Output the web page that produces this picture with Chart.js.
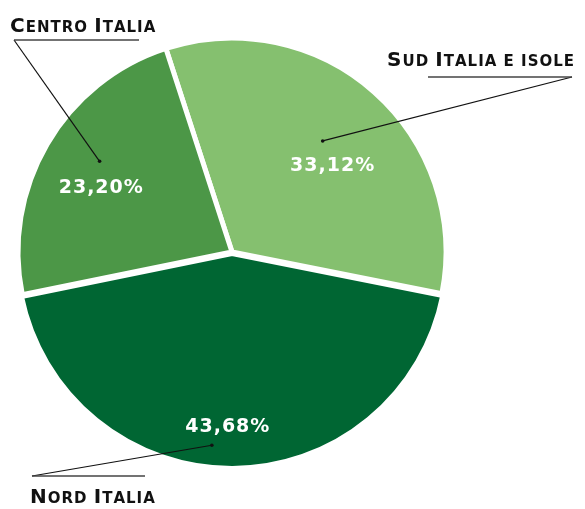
<!DOCTYPE html>
<html>
<head>
<meta charset="utf-8">
<script src="https://cdn.jsdelivr.net/npm/chart.js@4"></script>
<style>
  html, body { margin: 0; padding: 0; background: #fff; }
  #wrap { width: 585px; height: 509px; }
</style>
</head>
<body>
<div id="wrap"><canvas id="torta"></canvas></div>
<script>
// dati
const areas = ['Sud Italia e isole', 'Nord Italia', 'Centro Italia'];
const percentages = [33.12, 43.68, 23.20];
const sliceColors = ['#85c06f', '#006633', '#4c9747'];

// posizione etichette esterne (testo + sottolineatura)
const callouts = [
  { align: 'right', tx: 575, ty: 66, lx1: 428, lx2: 572, ly: 77, endX: 572, dotT: 0.48, dotR: 0.67, pctT: 0.565, pctR: 0.62 },
  { align: 'left',  tx: 30,  ty: 503, lx1: 32, lx2: 145, ly: 476, endX: 32, dotT: 0.54, dotR: 0.88, pctT: 0.51, pctR: 0.79 },
  { align: 'left',  tx: 10,  ty: 32, lx1: 14, lx2: 139, ly: 40, endX: 14, dotT: 0.55, dotR: 0.75, pctT: 0.45, pctR: 0.68 }
];

const FONT = "'DejaVu Sans', sans-serif";

// disegna il testo in maiuscoletto (small caps) a mano
function smallCaps(ctx, text, x, y, align) {
  const big = 20, small = 15;
  const parts = [];
  let w = 0;
  for (const ch of text) {
    const isUp = ch !== ch.toLowerCase();
    const size = isUp ? big : small;
    ctx.font = 'bold ' + size + 'px ' + FONT;
    const c = ch.toUpperCase();
    const cw = ctx.measureText(c).width + 1;
    parts.push({ c, size, cw });
    w += cw;
  }
  let cx = align === 'right' ? x - w : x;
  ctx.textAlign = 'left';
  ctx.textBaseline = 'alphabetic';
  for (const p of parts) {
    ctx.font = 'bold ' + p.size + 'px ' + FONT;
    ctx.fillText(p.c, cx, y);
    cx += p.cw;
  }
}

const calloutPlugin = {
  id: 'callouts',
  afterDatasetsDraw(chart) {
    const ctx = chart.ctx;
    const arcs = chart.getDatasetMeta(0).data;
    ctx.save();
    arcs.forEach((arc, i) => {
      const c = callouts[i];
      const { x, y, startAngle, endAngle, outerRadius } = arc.getProps(['x', 'y', 'startAngle', 'endAngle', 'outerRadius'], true);
      const off = chart.data.datasets[0].offset[i] || 0;
      const mid = (startAngle + endAngle) / 2;
      const cx = x + Math.cos(mid) * off;
      const cy = y + Math.sin(mid) * off;
      const at = (t, r) => {
        const a = startAngle + (endAngle - startAngle) * t;
        return [cx + Math.cos(a) * outerRadius * r, cy + Math.sin(a) * outerRadius * r];
      };

      // percentuale bianca
      const [px, py] = at(c.pctT, c.pctR);
      ctx.fillStyle = '#ffffff';
      ctx.font = 'bold 19px ' + FONT;
      ctx.letterSpacing = '1px';
      ctx.textAlign = 'center';
      ctx.textBaseline = 'middle';
      ctx.fillText(percentages[i].toFixed(2).replace('.', ',') + '%', px, py);
      ctx.letterSpacing = '0px';

      // linea guida
      const [dx, dy] = at(c.dotT, c.dotR);
      ctx.strokeStyle = '#111';
      ctx.lineWidth = 1.2;
      ctx.beginPath();
      ctx.moveTo(dx, dy);
      ctx.lineTo(c.endX, c.ly);
      ctx.stroke();
      ctx.beginPath();
      ctx.arc(dx, dy, 1.8, 0, Math.PI * 2);
      ctx.fillStyle = '#111';
      ctx.fill();

      // sottolineatura
      ctx.strokeStyle = '#444';
      ctx.lineWidth = 1.5;
      ctx.beginPath();
      ctx.moveTo(c.lx1, c.ly);
      ctx.lineTo(c.lx2, c.ly);
      ctx.stroke();

      // nome area
      ctx.fillStyle = '#111';
      smallCaps(ctx, areas[i], c.tx, c.ty, c.align);
    });
    ctx.restore();
  }
};

const ctx = document.getElementById('torta').getContext('2d');
const torta = new Chart(ctx, {
  type: 'pie',
  data: {
    labels: areas,
    datasets: [{
      data: percentages,
      backgroundColor: sliceColors,
      borderColor: '#ffffff',
      borderWidth: 5,
      offset: [0, 6, 0]
    }]
  },
  options: {
    responsive: true,
    maintainAspectRatio: false,
    animation: false,
    rotation: -18,
    radius: 214,
    layout: { padding: { left: 10, right: 131, top: 30, bottom: 35 } },
    plugins: {
      legend: { display: false },
      tooltip: { enabled: false }
    }
  },
  plugins: [calloutPlugin]
});
</script>
</body>
</html>
